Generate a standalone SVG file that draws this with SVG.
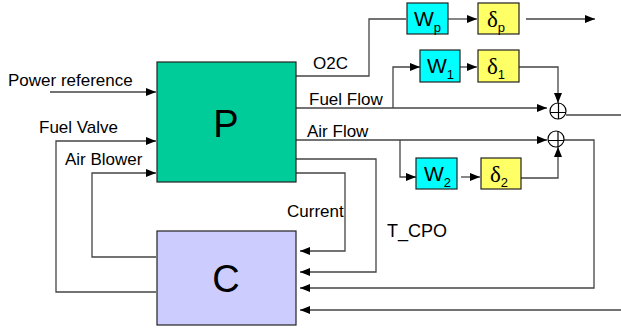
<svg xmlns="http://www.w3.org/2000/svg" width="621" height="331" viewBox="0 0 621 331">
<style>
.bg{fill:#fff}
.box{stroke:#222;stroke-width:1.2}
.ln{fill:none;stroke:#444;stroke-width:1.3}
.t{font-family:"Liberation Sans",Arial,sans-serif;font-size:17px;fill:#000}
.big{font-family:"Liberation Sans",Arial,sans-serif;font-size:38px;fill:#000;text-anchor:middle}
.bt{font-family:"Liberation Sans",Arial,sans-serif;font-size:21px;fill:#000}
.dt{font-family:"Liberation Serif","Times New Roman",serif;font-size:23px;fill:#000}
.sub{font-family:"Liberation Sans",Arial,sans-serif;font-size:13px}
.sum{fill:#fff;stroke:#000;stroke-width:1.2}
</style>
<defs>
<marker id="ah" markerUnits="userSpaceOnUse" markerWidth="10" markerHeight="10" viewBox="0 0 10 10" refX="10" refY="5" orient="auto">
<path d="M0,1 L10,5 L0,9 Z" fill="#000"/>
</marker>
</defs>
<rect class="bg" width="621" height="331"/>
<g id="connectors">
<path class="ln" d="M50,92 H156" marker-end="url(#ah)"/>
<path class="ln" d="M156,292 H56 V141 H156" marker-end="url(#ah)"/>
<path class="ln" d="M156,257 H92 V173 H156" marker-end="url(#ah)"/>
<path class="ln" d="M296,76 H369 V19 H406"/>
<path class="ln" d="M448,19 H477" marker-end="url(#ah)"/>
<path class="ln" d="M526,19 H595" marker-end="url(#ah)"/>
<path class="ln" d="M296,108 H547" marker-end="url(#ah)"/>
<path class="ln" d="M393,108 V67 H420" marker-end="url(#ah)"/>
<path class="ln" d="M460,67 H477" marker-end="url(#ah)"/>
<path class="ln" d="M519,67 H558 V103" marker-end="url(#ah)"/>
<path class="ln" d="M566,115 H621"/>
<path class="ln" d="M296,140 H547" marker-end="url(#ah)"/>
<path class="ln" d="M400,140 V177 H416" marker-end="url(#ah)"/>
<path class="ln" d="M461,177 H480" marker-end="url(#ah)"/>
<path class="ln" d="M521,178 H558 V147" marker-end="url(#ah)"/>
<path class="ln" d="M564,140 H594 V288 H300" marker-end="url(#ah)"/>
<path class="ln" d="M296,159 H376 V272 H300" marker-end="url(#ah)"/>
<path class="ln" d="M296,173 H345 V251 H300" marker-end="url(#ah)"/>
<path class="ln" d="M621,310 H300" marker-end="url(#ah)"/>
</g>
<g id="labels">
<text class="t" x="8" y="86">Power reference</text>
<text class="t" x="39" y="133">Fuel Valve</text>
<text class="t" x="65" y="165">Air Blower</text>
<text class="t" x="313" y="69">O2C</text>
<text class="t" x="309" y="105">Fuel Flow</text>
<text class="t" x="307" y="137">Air Flow</text>
<text class="t" x="287" y="217">Current</text>
<text class="t" x="387" y="237" style="font-size:18px">T_CPO</text>
</g>
<g id="P">
<rect class="box" x="157" y="62" width="139" height="120" fill="#00CC99"/>
<text class="big" x="226" y="137">P</text>
</g>
<g id="C">
<rect class="box" x="157" y="231" width="139" height="94" fill="#CCCCFF"/>
<text class="big" x="226" y="292">C</text>
</g>
<g id="Wp">
<rect class="box" x="407" y="3" width="41" height="31" fill="#00FFFF"/>
<text class="bt" x="414" y="26">W<tspan class="sub" dy="6">p</tspan></text>
</g>
<g id="dp">
<rect class="box" x="478" y="3" width="41" height="31" fill="#FFFF66"/>
<text class="dt" x="487" y="27">δ<tspan class="sub" dy="5">p</tspan></text>
</g>
<g id="W1">
<rect class="box" x="420" y="50" width="40" height="32" fill="#00FFFF"/>
<text class="bt" x="427" y="73">W<tspan class="sub" dy="6">1</tspan></text>
</g>
<g id="d1">
<rect class="box" x="478" y="50" width="41" height="32" fill="#FFFF66"/>
<text class="dt" x="487" y="74">δ<tspan class="sub" dy="5">1</tspan></text>
</g>
<g id="W2">
<rect class="box" x="416" y="158" width="41" height="31" fill="#00FFFF"/>
<text class="bt" x="424" y="181">W<tspan class="sub" dy="6">2</tspan></text>
</g>
<g id="d2">
<rect class="box" x="481" y="158" width="40" height="31" fill="#FFFF66"/>
<text class="dt" x="490" y="182">δ<tspan class="sub" dy="5">2</tspan></text>
</g>
<g id="sum1">
<circle class="sum" cx="558" cy="111" r="8"/>
<path d="M550,112.5 H566 M558.5,103 V119" stroke="#000" stroke-width="1.2"/>
</g>
<g id="sum2">
<circle class="sum" cx="556" cy="139" r="8"/>
<path d="M548,140.5 H564 M558,131 V147" stroke="#000" stroke-width="1.2"/>
</g>
</svg>
